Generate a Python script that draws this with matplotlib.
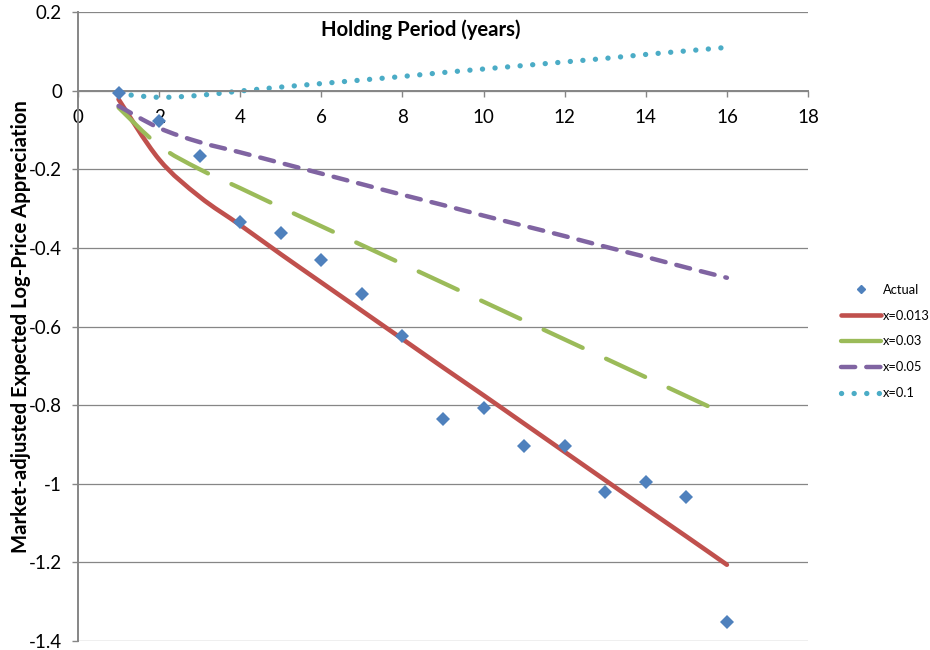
import numpy as np
import matplotlib
matplotlib.use("Agg")
import matplotlib.pyplot as plt
from matplotlib.path import Path
from matplotlib.patches import PathPatch
from matplotlib.lines import Line2D
from matplotlib.ticker import FixedLocator, FuncFormatter

plt.rcParams['font.family'] = ['Lato', 'DejaVu Sans']
plt.rcParams['lines.scale_dashes'] = False

# holding period in years
years = list(range(1, 17))

# observed market-adjusted log-price appreciation
actual = [-0.005, -0.076, -0.166, -0.333, -0.361, -0.430, -0.517, -0.623,
          -0.835, -0.807, -0.903, -0.903, -1.020, -0.996, -1.034, -1.351]

# model curves for each x
model_0013 = [-0.022, -0.175, -0.270, -0.342, -0.416, -0.488, -0.560, -0.632,
              -0.704, -0.775, -0.847, -0.919, -0.991, -1.063, -1.134, -1.206]
model_003 = [-0.043, -0.140, -0.200, -0.248, -0.297, -0.345, -0.393, -0.441,
             -0.489, -0.537, -0.585, -0.633, -0.681, -0.729, -0.777, -0.825]
model_005 = [-0.039, -0.095, -0.131, -0.157, -0.184, -0.211, -0.238, -0.265,
             -0.291, -0.318, -0.344, -0.370, -0.397, -0.423, -0.450, -0.476]
model_01 = [-0.008, -0.017, -0.012, -0.001, 0.009, 0.018, 0.027, 0.036,
            0.046, 0.055, 0.064, 0.073, 0.082, 0.092, 0.101, 0.110]

series_labels = ['Actual', 'x=0.013', 'x=0.03', 'x=0.05', 'x=0.1']

x_ticks = [0, 2, 4, 6, 8, 10, 12, 14, 16, 18]
y_ticks = [0.2, 0, -0.2, -0.4, -0.6, -0.8, -1, -1.2, -1.4]


def smooth_path(xs, ys):
    # bezier curve through the points (same idea as a "smoothed line" in a spreadsheet)
    pts = np.column_stack([xs, ys]).astype(float)
    n = len(pts)
    verts = [pts[0]]
    codes = [Path.MOVETO]
    for i in range(n - 1):
        p0 = pts[max(i - 1, 0)]
        p1 = pts[i]
        p2 = pts[i + 1]
        p3 = pts[min(i + 2, n - 1)]
        verts += [p1 + (p2 - p0) / 6, p2 - (p3 - p1) / 6, p2]
        codes += [Path.CURVE4] * 3
    return Path(verts, codes)


grey = '#868686'
styles = [
    ('#C0504D', 3.3, '-'),
    ('#9BBB59', 3.1, (0, (31.0, 18.6))),
    ('#8064A2', 3.2, (0, (10.2, 8.0))),
    ('#4BACC6', 3.8, (0, (0.1, 8.97))),
]
curves = [model_0013, model_003, model_005, model_01]

fig = plt.figure(figsize=(9.3, 6.5), dpi=100)
ax = fig.add_axes([78 / 930, 1 - 641 / 650, 730 / 930, 629 / 650])

ax.set_xlim(0, 18)
ax.set_ylim(-1.4, 0.2)
ax.set_axisbelow(True)

handles = []
h_act = Line2D([], [], marker='D', ls='none', color='#4F81BD', markersize=7.6)

for vals, (col, lw, ls) in zip(curves, styles):
    patch = PathPatch(smooth_path(years, vals), fill=False, edgecolor=col,
                      lw=lw, linestyle=ls, capstyle='round', joinstyle='round',
                      zorder=2)
    ax.add_patch(patch)
    handles.append(Line2D([], [], color=col, lw=lw, linestyle=ls,
                          dash_capstyle='round', solid_capstyle='round'))

ax.plot(years, actual, 'D', color='#4F81BD', markersize=7.6,
        markeredgewidth=0, zorder=3)

# axes styling: x axis crosses at y = 0
for side in ['top', 'right']:
    ax.spines[side].set_visible(False)
ax.spines['bottom'].set_position(('data', 0))
ax.spines['bottom'].set_color(grey)
ax.spines['left'].set_color(grey)
ax.spines['bottom'].set_linewidth(1.4)
ax.spines['left'].set_linewidth(1.4)

ax.xaxis.set_major_locator(FixedLocator(x_ticks))
ax.yaxis.set_major_locator(FixedLocator(y_ticks))
ax.yaxis.set_major_formatter(FuncFormatter(lambda v, p: '%g' % round(v, 2)))
ax.tick_params(axis='both', direction='out', length=4.5, width=1.0,
               color=grey, labelsize=13.5, labelcolor='#000000')
ax.tick_params(axis='x', pad=8.5)
ax.tick_params(axis='y', pad=7)
ax.yaxis.grid(True, color=grey, lw=0.9)

ax.set_xlabel('Holding Period (years)', fontsize=14.6, fontweight='bold')
ax.xaxis.set_label_coords((421 - 78) / 730, (641 - 30) / 629)
ax.xaxis.label.set_va('center')
ax.set_ylabel('Market-adjusted Expected Log-Price Appreciation',
              fontsize=14.6, fontweight='bold')
ax.yaxis.set_label_coords((21 - 78) / 730, 0.5)
ax.yaxis.label.set_va('center')

fig.legend([h_act] + handles, series_labels, loc='center left',
           bbox_to_anchor=(841 / 930, 1 - 341.5 / 650), frameon=False,
           fontsize=9.3, handlelength=3.1, handletextpad=0.15,
           labelspacing=1.07, borderpad=0, borderaxespad=0, markerscale=0.6)

fig.savefig('out.png', dpi=100)
